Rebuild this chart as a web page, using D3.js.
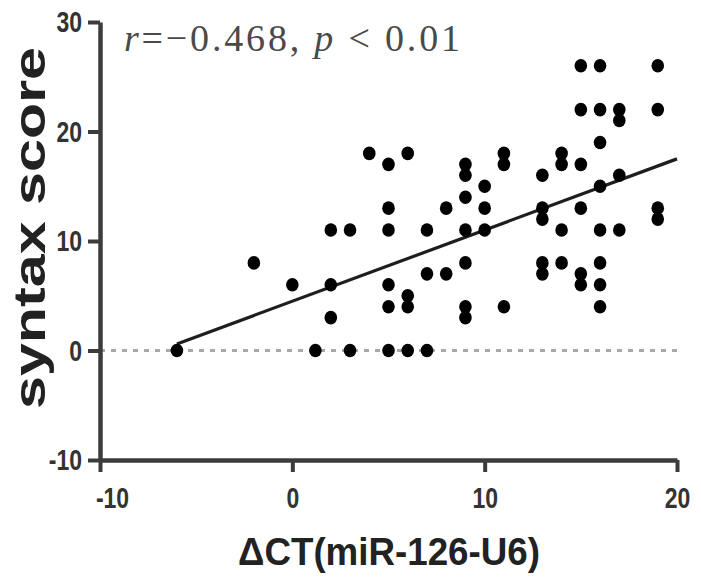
<!DOCTYPE html>
<html>
<head>
<meta charset="utf-8">
<script src="https://cdn.jsdelivr.net/npm/d3@7"></script>
<style>
  html, body { margin: 0; padding: 0; background: #fff; }
  svg { display: block; }
</style>
</head>
<body>
<svg id="chart" width="701" height="582"></svg>
<script>
// ---- data ----
const xValues = [-6, -2, 0, 1.2,
  2, 2, 2, 3, 3, 4,
  5, 5, 5, 5, 5, 5,
  6, 6, 6, 6,
  7, 7, 7, 8, 8,
  9, 9, 9, 9, 9, 9, 9,
  10, 10, 10, 11, 11, 11,
  13, 13, 13, 13, 13,
  14, 14, 14, 14,
  15, 15, 15, 15, 15, 15,
  16, 16, 16, 16, 16, 16, 16, 16,
  17, 17, 17, 17,
  19, 19, 19, 19];
const yValues = [0, 8, 6, 0,
  11, 6, 3, 11, 0, 18,
  17, 13, 11, 6, 4, 0,
  18, 5, 4, 0,
  11, 7, 0, 13, 7,
  17, 16, 14, 11, 8, 4, 3,
  15, 13, 11, 18, 17, 4,
  16, 13, 12, 8, 7,
  18, 17, 11, 8,
  26, 22, 17, 13, 7, 6,
  26, 22, 19, 15, 11, 8, 6, 4,
  22, 21, 16, 11,
  26, 22, 13, 12];
const fitX = [-6, 20];
const fitY = [0.6, 17.5];
const xTicks = [-10, 0, 10, 20];
const yTicks = [-10, 0, 10, 20, 30];
const xTitle = "\u0394CT(miR-126-U6)";
const yTitle = "syntax score";

const points = xValues.map((x, i) => ({x, y: yValues[i]}));

// ---- drawing ----
const svg = d3.select("#chart");
const x = d3.scaleLinear().domain([-10, 20]).range([100, 677]);
const y = d3.scaleLinear().domain([-10, 30]).range([460, 22]);
const axisColor = "#3c3c3c";
const fmt = d => String(d);

// zero reference line (dotted)
svg.append("line")
  .attr("x1", x(-10)).attr("x2", x(20))
  .attr("y1", y(0)).attr("y2", y(0))
  .attr("stroke", "#a8a8a8").attr("stroke-width", 3)
  .attr("stroke-dasharray", "5,6");

// axes
const gx = svg.append("g").attr("transform", `translate(0,${y(-10)})`)
  .call(d3.axisBottom(x).tickValues(xTicks).tickSize(12).tickSizeOuter(0).tickFormat(fmt));
const gy = svg.append("g").attr("transform", `translate(${x(-10)},0)`)
  .call(d3.axisLeft(y).tickValues(yTicks).tickSize(12).tickSizeOuter(0).tickFormat(fmt));

[gx, gy].forEach(g => {
  g.select(".domain").attr("stroke", axisColor).attr("stroke-width", 4.5);
  g.selectAll(".tick line").attr("stroke", axisColor).attr("stroke-width", 4);
  g.selectAll(".tick text")
    .attr("fill", "#333")
    .style("font-family", "'Liberation Sans', Arial, sans-serif")
    .style("font-weight", "bold")
    .style("font-size", "23px")
    .attr("dominant-baseline", "central")
    .attr("dy", null);
});
gx.selectAll(".tick text")
  .attr("y", 0)
  .attr("transform", d => `translate(${d === -10 ? 12 : 0},38) scale(1,1.25)`);
gy.selectAll(".tick text")
  .attr("x", 0)
  .attr("transform", "translate(-18,0) scale(1,1.25)");

// fit line
svg.append("line")
  .attr("x1", x(fitX[0])).attr("y1", y(fitY[0]))
  .attr("x2", x(fitX[1])).attr("y2", y(fitY[1]))
  .attr("stroke", "#1e1e1e").attr("stroke-width", 3.2);

// points
svg.append("g").selectAll("ellipse").data(points).join("ellipse")
  .attr("cx", d => x(d.x)).attr("cy", d => y(d.y))
  .attr("rx", 6.3).attr("ry", 6.8)
  .attr("fill", "#000");

// annotation
const ann = svg.append("text")
  .attr("x", 124).attr("y", 51)
  .attr("fill", "#4a4a4a")
  .style("font-family", "'Liberation Serif', 'Times New Roman', serif")
  .style("font-size", "38px")
  .attr("textLength", 336).attr("lengthAdjust", "spacing");
ann.append("tspan").style("font-style", "italic").text("r");
ann.append("tspan").text("=\u22120.468, ");
ann.append("tspan").style("font-style", "italic").text("p");
ann.append("tspan").text(" < 0.01");

// axis titles
svg.append("text")
  .attr("transform", "translate(45,228) rotate(-90)")
  .attr("text-anchor", "middle")
  .attr("fill", "#222")
  .style("font-family", "'Liberation Sans', Arial, sans-serif")
  .style("font-weight", "bold")
  .style("font-size", "44px")
  .attr("textLength", 362).attr("lengthAdjust", "spacingAndGlyphs")
  .text(yTitle);

svg.append("text")
  .attr("transform", "translate(389,552) scale(1,1.15)")
  .attr("text-anchor", "middle")
  .attr("dominant-baseline", "central")
  .attr("fill", "#222")
  .style("font-family", "'Liberation Sans', Arial, sans-serif")
  .style("font-weight", "bold")
  .style("font-size", "34px")
  .attr("textLength", 302).attr("lengthAdjust", "spacingAndGlyphs")
  .text(xTitle);
</script>
</body>
</html>
